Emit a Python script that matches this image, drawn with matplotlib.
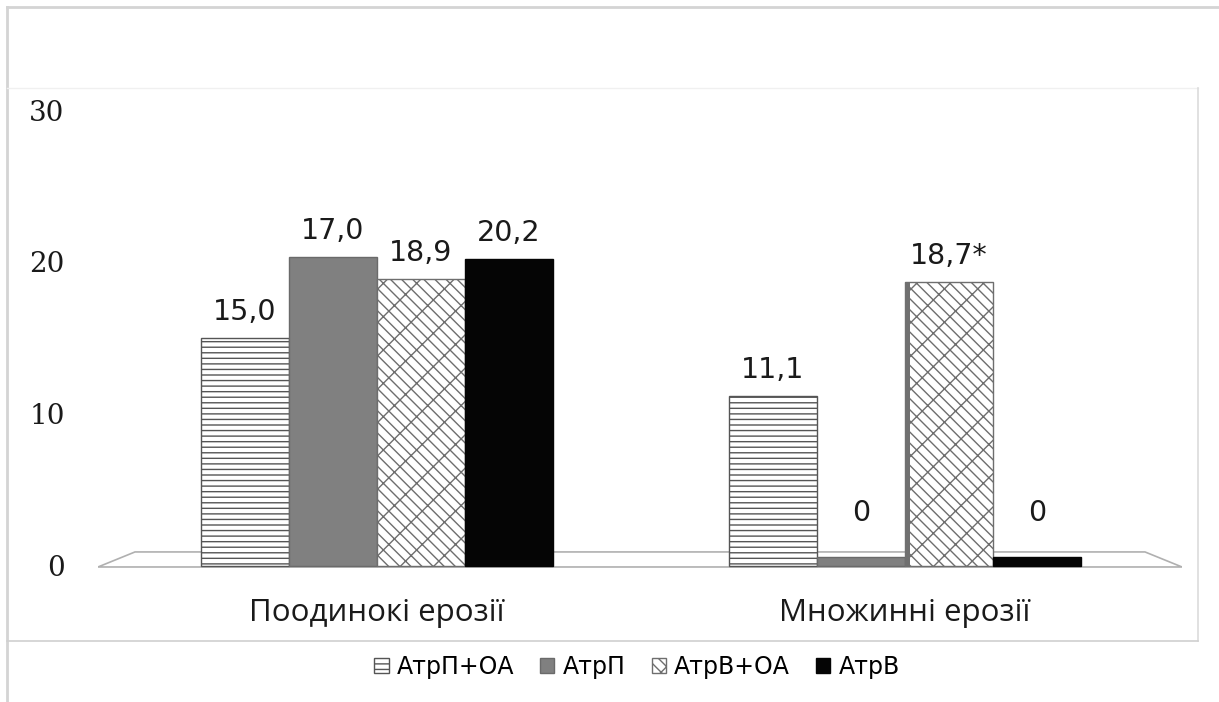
import matplotlib
matplotlib.use("Agg")
import matplotlib.pyplot as plt
from matplotlib.lines import Line2D
from matplotlib.patches import Patch
import numpy as np

# ---- data ----
categories = ["Поодинокі ерозії", "Множинні ерозії"]
series_names = ["АтрП+ОА", "АтрП", "АтрВ+ОА", "АтрВ"]
# bar heights as drawn in the picture
heights = {
    "АтрП+ОА": [15.0, 11.2],
    "АтрП":    [20.3, 0.6],
    "АтрВ+ОА": [18.9, 18.7],
    "АтрВ":    [20.2, 0.6],
}
# value labels as printed
labels = {
    "АтрП+ОА": ["15,0", "11,1"],
    "АтрП":    ["17,0", "0"],
    "АтрВ+ОА": ["18,9", "18,7*"],
    "АтрВ":    ["20,2", "0"],
}
yticks = [0, 10, 20, 30]

# ---- styles ----
styles = {
    "АтрП+ОА": dict(facecolor="white", edgecolor="#555555", hatch="---"),
    "АтрП":    dict(facecolor="#808080", edgecolor="#6a6a6a", hatch=None),
    "АтрВ+ОА": dict(facecolor="white", edgecolor="#6e6e6e", hatch="x\\\\"),
    "АтрВ":    dict(facecolor="#050505", edgecolor="#050505", hatch=None),
}

W, H = 1219, 702
fig = plt.figure(figsize=(W / 100, H / 100), dpi=100)
plt.rcParams["hatch.linewidth"] = 1.0

# axes placement (pixels)
ax_left, ax_right = 98, 1182
ax_top, ax_bottom = 88, 572
ax = fig.add_axes([ax_left / W, (H - ax_bottom) / H,
                   (ax_right - ax_left) / W, (ax_bottom - ax_top) / H])
ax.set_xlim(-0.527, 1.524)
ax.set_ylim(-0.4, 31.45)

# floor (3D look)
floor_front, floor_back = -0.07, 0.92
fx = [-0.527, 1.524, 1.454, -0.457, -0.527]
fy = [floor_front, floor_front, floor_back, floor_back, floor_front]
ax.fill(fx, fy, facecolor="white", edgecolor="#b0b0b0", lw=1.2, zorder=1)

x = np.arange(len(categories))
n = len(series_names)
bw = 0.1665
for i, name in enumerate(series_names):
    pos = x + (i - (n - 1) / 2) * bw
    st = styles[name]
    ax.bar(pos, heights[name], width=bw, facecolor=st["facecolor"],
           edgecolor=st["edgecolor"], hatch=st["hatch"], lw=1.0, zorder=3)
    for xp, h, lab in zip(pos, heights[name], labels[name]):
        off = 30 if h < 1 else 12
        ax.annotate(lab, (xp, h), xytext=(0, off), textcoords="offset pixels",
                    ha="center", va="bottom", fontsize=20.5,
                    family=["DejaVu Sans"], color="#1a1a1a", zorder=5)

# slight 3D side face on the tall right-group hatched bar
side_pos = x[1] + (2 - (n - 1) / 2) * bw - bw / 2 + 0.005
ax.bar([side_pos], [heights["АтрВ+ОА"][1]], width=0.01,
       facecolor="#707070", edgecolor="none", zorder=4)

ax.set_yticks(yticks)
ax.set_yticklabels([str(t) for t in yticks], family=["DejaVu Serif"],
                   fontsize=20, color="#1a1a1a")
ax.tick_params(axis="y", length=0, pad=24)
ax.set_xticks(x)
ax.set_xticklabels(categories, family=["Open Sans", "DejaVu Sans"], fontsize=22.5,
                   color="#1a1a1a")
ax.tick_params(axis="x", length=0, pad=19)
for s in ax.spines.values():
    s.set_visible(False)
ax.patch.set_alpha(0)

# frame lines
def fline(x0, y0, x1, y1, color, lw=1.5):
    fig.add_artist(Line2D([x0 / W, x1 / W], [1 - y0 / H, 1 - y1 / H],
                          color=color, lw=lw))

fline(7, 7, W, 7, "#d4d4d4", 2)
fline(7, 7, 7, H, "#d4d4d4", 2)
fline(7, 88, 1198, 88, "#f0f0f0", 1.0)
fline(1198, 88, 1198, 641, "#dcdcdc", 1.2)
fline(7, 641, 1198, 641, "#d0d0d0", 1.2)

# legend
handles = [Patch(facecolor=styles[nm]["facecolor"], edgecolor=styles[nm]["edgecolor"],
                 hatch=styles[nm]["hatch"], label=nm) for nm in series_names]
fig.legend(handles=handles, loc="center", bbox_to_anchor=(637 / W, 1 - 667 / H),
           ncol=4, frameon=False, handlelength=0.6, handleheight=0.6,
           handletextpad=0.35, columnspacing=1.1,
           prop={"family": ["DejaVu Sans"], "size": 17})

fig.savefig("out.png", dpi=100)
